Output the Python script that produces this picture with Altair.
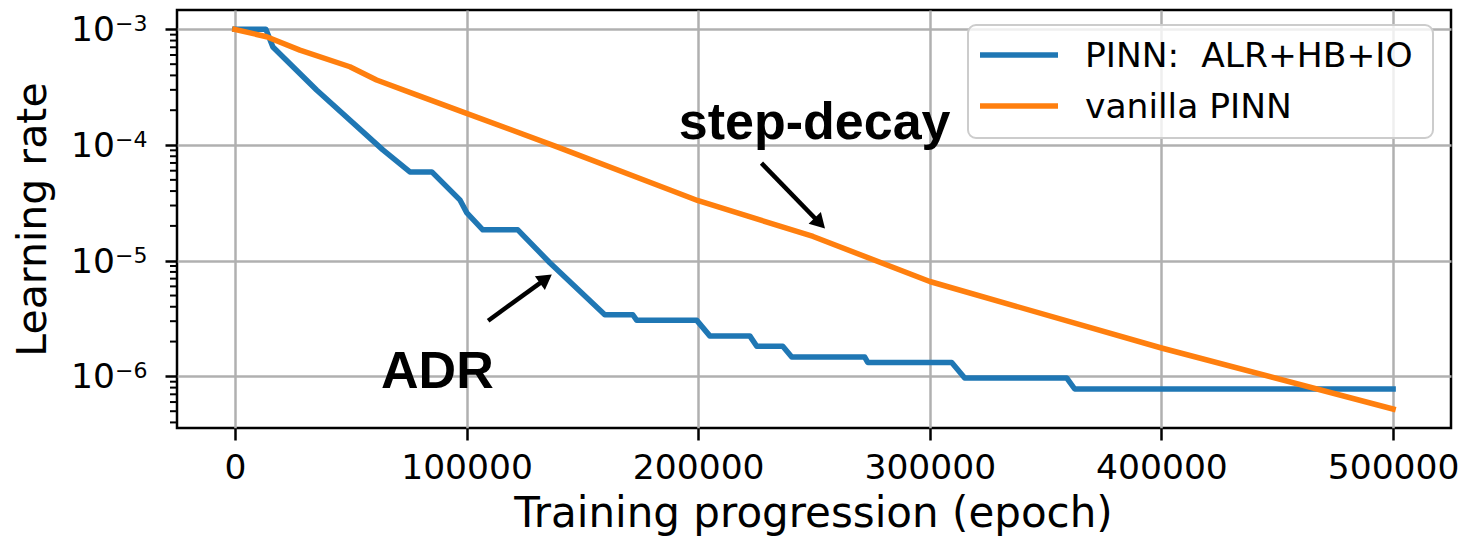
import altair as alt
import pandas as pd

# ---- learning-rate schedules -------------------------------------------
alr_name = "PINN:\u00a0 ALR+HB+IO"
vanilla_name = "vanilla PINN"

alr_epoch = [0, 13380, 16400, 35260, 63880, 75530, 85020, 97110, 100130, 107030,
             122140, 135950, 159690, 171770, 173500, 199400, 205000, 222270,
             225290, 236510, 240400, 271900, 273200, 309450, 315060, 359080,
             362540, 500000]
alr_lr = [1.0e-3, 1.0e-3, 7.03e-4, 2.99e-4, 9.08e-5, 5.86e-5, 5.86e-5, 3.36e-5,
          2.59e-5, 1.85e-5, 1.85e-5, 9.6e-6, 3.41e-6, 3.41e-6, 3.05e-6, 3.05e-6,
          2.24e-6, 2.24e-6, 1.82e-6, 1.82e-6, 1.47e-6, 1.47e-6, 1.32e-6, 1.32e-6,
          9.7e-7, 9.7e-7, 7.78e-7, 7.78e-7]

vanilla_epoch = [0, 13680, 28050, 49630, 61160, 78420, 100000, 138840, 187890,
                 200000, 249600, 300000, 400000, 500000]
vanilla_lr = [1.0e-3, 8.63e-4, 6.62e-4, 4.75e-4, 3.65e-4, 2.71e-4, 1.88e-4,
              9.68e-5, 4.09e-5, 3.3e-5, 1.62e-5, 6.61e-6, 1.76e-6, 5.22e-7]

# ---- axes ------------------------------------------------------------------
x_ticks = [0, 100000, 200000, 300000, 400000, 500000]
y_ticks = [1e-6, 1e-5, 1e-4, 1e-3]
y_tick_exp = ["\u22126", "\u22125", "\u22124", "\u22123"]
y_minor = [m * 10.0 ** e for e in (-7, -6, -5, -4) for m in range(2, 10)]
y_minor = [v for v in y_minor if 3.6e-7 < v < 1.4e-3]

# ---- annotations -------------------------------------------------------------
note_text = ["step-decay", "ADR"]
note_epoch = [250300, 87400]
note_lr = [1.13e-4, 7.94e-7]

arrow_tail_epoch = [227320, 109320]
arrow_tail_lr = [6.97e-5, 3.03e-6]
arrow_head_epoch = [252530, 134230]
arrow_head_lr = [2.11e-5, 6.97e-6]
arrow_head_angle = [136, 54]

BLUE = "#1f77b4"
ORANGE = "#ff7f0e"
GRID = "#b0b0b0"
FONT = "DejaVu Sans"

xscale = alt.Scale(domain=[-25000, 525000], nice=False, zero=False)
yscale = alt.Scale(type="log", domain=[3.58e-7, 1.47e-3], nice=False)

lines_df = pd.concat([
    pd.DataFrame({"epoch": alr_epoch, "lr": alr_lr, "series": alr_name}),
    pd.DataFrame({"epoch": vanilla_epoch, "lr": vanilla_lr, "series": vanilla_name}),
], ignore_index=True)
lines_df["idx"] = range(len(lines_df))

color = alt.Color("series:N", legend=None,
                  scale=alt.Scale(domain=[alr_name, vanilla_name], range=[BLUE, ORANGE]))

x_main = alt.X(
    "epoch:Q", scale=xscale,
    axis=alt.Axis(values=x_ticks, format="d", labelFont=FONT, labelFontSize=34.5,
                  labelColor="black", labelPadding=11, tickSize=12, tickWidth=2.5,
                  tickColor="black", grid=True, gridColor=GRID, gridWidth=2.5,
                  domain=False, title="Training progression (epoch)",
                  titleFont=FONT, titleFontSize=42, titleFontWeight="normal",
                  titleColor="black", titleX=636, titleY=98,
                  titleBaseline="alphabetic", titleAlign="center"),
)
y_main = alt.Y(
    "lr:Q", scale=yscale,
    axis=alt.Axis(values=y_ticks, labels=False, tickSize=12, tickWidth=2.5,
                  tickColor="black", grid=True, gridColor=GRID, gridWidth=2.5,
                  domain=False, orient="left", title="Learning rate",
                  titleFont=FONT, titleFontSize=41, titleFontWeight="normal",
                  titleColor="black", titleAngle=270, titleX=-132, titleY=209,
                  titleBaseline="alphabetic", titleAlign="center"),
)
x_plain = alt.X("epoch:Q", scale=xscale)
y_plain = alt.Y("lr:Q", scale=yscale)

lines = alt.Chart(lines_df).mark_line(strokeWidth=5.5, strokeCap="square",
                                      strokeJoin="round").encode(
    x=x_main, y=y_main, color=color, order="idx:Q"
)

# minor ticks of the log axis
minor_df = pd.DataFrame({"lr": y_minor})
minor_ticks = alt.Chart(minor_df).mark_rule(color="black", strokeWidth=2).encode(
    x=alt.value(-7), x2=alt.value(0), y=y_plain
)

# y tick labels drawn as 10 with a raised exponent
ytick_df = pd.DataFrame({"lr": y_ticks, "exp": y_tick_exp, "base": ["10"] * 4})
tick_base = alt.Chart(ytick_df).mark_text(
    align="right", baseline="alphabetic", dy=12, fontSize=34.5, font=FONT, color="black"
).encode(x=alt.value(-62), y=y_plain, text="base:N")
tick_exp = alt.Chart(ytick_df).mark_text(
    align="left", baseline="alphabetic", dy=2, fontSize=22, font=FONT, color="black"
).encode(x=alt.value(-62), y=y_plain, text="exp:N")

# annotations
notes_df = pd.DataFrame({"epoch": note_epoch, "lr": note_lr, "label": note_text})
notes = alt.Chart(notes_df).mark_text(
    align="center", baseline="alphabetic", fontSize=52, fontWeight="bold",
    font="Liberation Sans", color="black"
).encode(x=x_plain, y=y_plain, text="label:N")

arrows_df = pd.DataFrame({
    "epoch": arrow_tail_epoch, "lr": arrow_tail_lr,
    "epoch2": arrow_head_epoch, "lr2": arrow_head_lr,
    "angle": arrow_head_angle,
})
shafts = alt.Chart(arrows_df).mark_rule(color="black", strokeWidth=4.5).encode(
    x=x_plain, y=y_plain, x2="epoch2:Q", y2="lr2:Q"
)
heads = alt.Chart(arrows_df).mark_point(
    shape="triangle-up", filled=True, color="black", size=290, opacity=1
).encode(
    x=alt.X("epoch2:Q", scale=xscale), y=alt.Y("lr2:Q", scale=yscale),
    angle=alt.Angle("angle:Q", scale=None)
)

# legend box
one = pd.DataFrame({"k": [0]})
leg_box = alt.Chart(one).mark_rect(
    fill="white", fillOpacity=0.8, stroke="#cccccc", strokeWidth=2, cornerRadius=8
).encode(x=alt.value(791), x2=alt.value(1256), y=alt.value(15), y2=alt.value(128))
leg_items = []
for name, col, ly, ty in [(alr_name, BLUE, 45, 57), (vanilla_name, ORANGE, 96, 108)]:
    leg_items.append(alt.Chart(one).mark_rule(color=col, strokeWidth=5.5).encode(
        x=alt.value(803), x2=alt.value(881), y=alt.value(ly)))
    leg_items.append(alt.Chart(one).mark_text(
        align="left", baseline="alphabetic", fontSize=34.5, font=FONT, color="black",
        text=name).encode(x=alt.value(908), y=alt.value(ty)))

chart = alt.layer(
    lines, minor_ticks, tick_base, tick_exp, shafts, heads, notes, leg_box, *leg_items
).properties(
    width=1274, height=418,
    padding={"left": 177, "top": 10, "right": 15, "bottom": 111},
    autosize="none",
).configure(background="white").configure_view(stroke="black", strokeWidth=2.5)

chart.save("out.html", embed_options={"renderer": "svg", "actions": False})
